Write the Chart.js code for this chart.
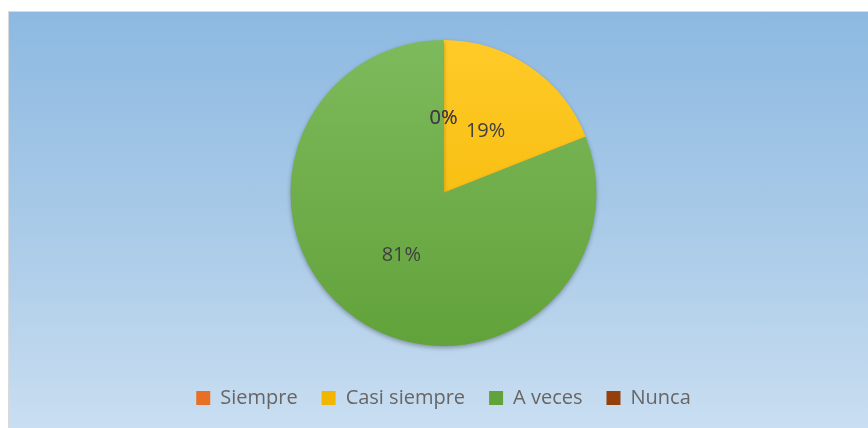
<!DOCTYPE html>
<html>
<head>
<meta charset="utf-8">
<script src="https://cdn.jsdelivr.net/npm/chart.js@4.4.1/dist/chart.umd.min.js"></script>
<style>
  html, body { margin: 0; padding: 0; background: #fff; }
  body { width: 868px; height: 428px; position: relative; overflow: hidden; }
  .frame {
    position: absolute; left: 8px; top: 11px; width: 860px; height: 417px;
    border-top: 1px solid #d9d9d9; border-left: 1px solid #d9d9d9;
    background: linear-gradient(to bottom, #8db9e1 0%, #aecde9 60%, #c9def1 100%);
    box-sizing: border-box;
  }
  canvas { display: block; }
</style>
</head>
<body>
<div class="frame"><canvas id="pie" width="859" height="416"></canvas></div>
<script>
/* ---------- Data ---------- */
const labels = ['Siempre', 'Casi siempre', 'A veces', 'Nunca'];
const values = [0, 19, 81, 0];
const pctLabels = ['0%', '19%', '81%', '0%'];
const topColors = ['#f4904f', '#ffca28', '#7dba5c', '#a9542a'];
const bottomColors = ['#e87025', '#f2b600', '#62a23a', '#953f0b'];

/* ---------- Slice gradient ---------- */
function sliceFill(ctx) {
  const chart = ctx.chart;
  const area = chart.chartArea;
  if (!area) return topColors[ctx.dataIndex];
  const g = chart.ctx.createLinearGradient(0, area.top, 0, area.bottom);
  g.addColorStop(0, topColors[ctx.dataIndex]);
  g.addColorStop(1, bottomColors[ctx.dataIndex]);
  return g;
}

/* ---------- Soft shadow under the pie ---------- */
const pieShadow = {
  id: 'pieShadow',
  beforeDatasetsDraw(chart) {
    const c = chart.ctx;
    c.save();
    c.shadowColor = 'rgba(0,0,0,0.3)';
    c.shadowBlur = 4;
    c.shadowOffsetY = 2;
  },
  afterDatasetsDraw(chart) {
    chart.ctx.restore();
  }
};

/* ---------- Data labels inside slices ---------- */
const sliceLabels = {
  id: 'sliceLabels',
  afterDatasetsDraw(chart) {
    const c = chart.ctx;
    const meta = chart.getDatasetMeta(0);
    c.save();
    c.font = '20px "Open Sans", sans-serif';
    c.fillStyle = '#404040';
    c.textAlign = 'center';
    c.textBaseline = 'middle';
    meta.data.forEach((arc, i) => {
      const p = arc.getProps(['x', 'y', 'startAngle', 'endAngle', 'outerRadius'], true);
      const mid = (p.startAngle + p.endAngle) / 2;
      const r = p.outerRadius * 0.49;
      c.fillText(pctLabels[i], p.x + Math.cos(mid) * r, p.y + Math.sin(mid) * r);
    });
    c.restore();
  }
};

new Chart(document.getElementById('pie'), {
  type: 'pie',
  data: {
    labels,
    datasets: [{
      data: values,
      backgroundColor: sliceFill,
      borderWidth: 0
    }]
  },
  options: {
    responsive: false,
    animation: false,
    layout: { padding: { top: 28, left: 10, right: 0, bottom: 10 } },
    plugins: {
      tooltip: { enabled: false },
      legend: {
        position: 'bottom',
        // empty title only used as spacer above the legend row
        title: { display: true, text: ' ', font: { size: 10, lineHeight: 1 }, padding: 4 },
        labels: {
          color: '#595959',
          font: { family: '"Open Sans", sans-serif', size: 20 },
          boxWidth: 14,
          boxHeight: 14,
          padding: 24,
          generateLabels(chart) {
            return labels.map((l, i) => ({
              text: l,
              fillStyle: bottomColors[i],
              strokeStyle: bottomColors[i],
              lineWidth: 0,
              index: i,
              datasetIndex: 0,
              hidden: false
            }));
          }
        }
      }
    }
  },
  plugins: [pieShadow, sliceLabels]
});
</script>
</body>
</html>
